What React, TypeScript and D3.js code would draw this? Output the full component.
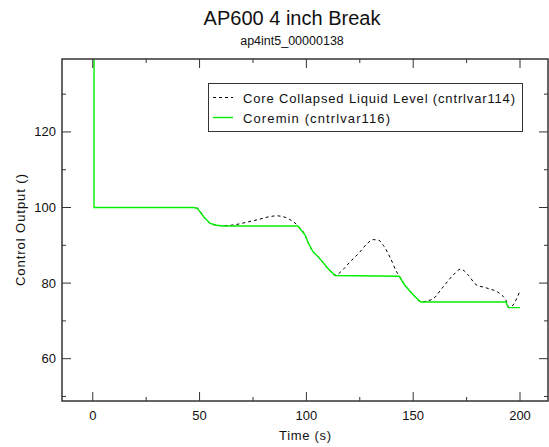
import * as d3 from 'd3'

const width = 549
const height = 447
const margin = { top: 59, right: 1, bottom: 46, left: 62 }

// Core Collapsed Liquid Level (cntrlvar114)
const coreTime = [0.6, 47, 49, 52, 55, 58, 61, 66, 72, 78, 83, 86, 89, 92, 94, 96, 99.4, 101, 103.2, 104.8, 107, 110.2, 113.4, 114.8, 117, 120.4, 125, 128, 131.3, 134, 136, 139.1, 142.3, 143.5, 146, 149, 151, 153.5, 155, 159.4, 164, 168.7, 172.3, 175.8, 179.4, 184.4, 190.6, 193.4, 195, 200]
const coreLevel = [100, 100, 99.8, 97.5, 95.8, 95.3, 95.2, 95.4, 96.1, 96.9, 97.6, 97.8, 97.6, 96.9, 96.2, 95.2, 92.7, 90.5, 88.2, 87.4, 86, 83.8, 82.1, 82.4, 83.5, 85.6, 88.2, 90.2, 91.5, 91.3, 90, 86.9, 82.9, 81.8, 79.5, 77.5, 76.3, 75.0, 75.1, 75.9, 79, 82.1, 83.7, 82.1, 79.6, 78.7, 77.2, 75.5, 73.5, 77.9]

// Coremin (cntrlvar116)
const coreminTime = [0.6, 0.6, 47, 49, 52, 55, 58, 61, 96, 99.4, 101, 103.2, 104.8, 107, 110.2, 113.4, 143.5, 146, 149, 151, 153.5, 193.4, 194.5, 200]
const coreminValue = [160, 100, 100, 99.8, 97.5, 95.8, 95.3, 95.1, 95.1, 92.7, 90.5, 88.2, 87.4, 86, 83.8, 82.0, 81.8, 79.5, 77.5, 76.3, 75.0, 75.0, 73.5, 73.5]

const xMajor = [0, 50, 100, 150, 200]
const xMinor = [25, 75, 125, 175]
const yMajor = [60, 80, 100, 120]
const yMinor = [50, 70, 90, 110, 130]

const legendLabels = ['Core Collapsed Liquid Level (cntrlvar114)', 'Coremin (cntrlvar116)']
const legendWidths = [272, 147]

const font = '"Liberation Sans", Arial, Helvetica, sans-serif'

export default function App() {
  const x0 = margin.left
  const x1 = width - margin.right
  const y0 = margin.top
  const y1 = height - margin.bottom

  const x = d3.scaleLinear().domain([-14.4, 213.1]).range([x0, x1])
  const y = d3.scaleLinear().domain([48.8, 139.3]).range([y1, y0])

  const corePts = coreTime.map((t, i) => [t, coreLevel[i]] as [number, number])
  const minPts = coreminTime.map((t, i) => [t, coreminValue[i]] as [number, number])

  const smooth = d3
    .line<[number, number]>()
    .x((d) => x(d[0]))
    .y((d) => y(d[1]))
    .curve(d3.curveMonotoneX)
  const straight = d3
    .line<[number, number]>()
    .x((d) => x(d[0]))
    .y((d) => y(d[1]))

  const axisColor = '#333'

  return (
    <svg
      width={width}
      height={height}
      style={{ position: 'absolute', left: 0, top: 0, background: '#fff' }}
      fontFamily={font}
    >
      <text x={292} y={25} textAnchor="middle" fontSize={20} fill="#111">
        AP600 4 inch Break
      </text>
      <text x={292} y={45} textAnchor="middle" fontSize={12.5} fill="#111">
        ap4int5_00000138
      </text>

      <defs>
        <clipPath id="plot">
          <rect x={x0} y={y0} width={x1 - x0} height={y1 - y0} />
        </clipPath>
      </defs>

      <g clipPath="url(#plot)">
        <path d={smooth(corePts) ?? ''} fill="none" stroke="#000" strokeWidth={1} strokeDasharray="3,3" />
        <path d={straight(minPts) ?? ''} fill="none" stroke="#00f000" strokeWidth={1.4} />
      </g>

      {/* ticks */}
      <g stroke={axisColor} strokeWidth={1}>
        {xMajor.map((t) => (
          <g key={'xM' + t}>
            <line x1={x(t)} x2={x(t)} y1={y1} y2={y1 - 9} />
            <line x1={x(t)} x2={x(t)} y1={y0} y2={y0 + 9} />
          </g>
        ))}
        {xMinor.map((t) => (
          <g key={'xm' + t}>
            <line x1={x(t)} x2={x(t)} y1={y1} y2={y1 - 4} />
            <line x1={x(t)} x2={x(t)} y1={y0} y2={y0 + 4} />
          </g>
        ))}
        {yMajor.map((v) => (
          <g key={'yM' + v}>
            <line x1={x0} x2={x0 + 9} y1={y(v)} y2={y(v)} />
            <line x1={x1} x2={x1 - 9} y1={y(v)} y2={y(v)} />
          </g>
        ))}
        {yMinor.map((v) => (
          <g key={'ym' + v}>
            <line x1={x0} x2={x0 + 4} y1={y(v)} y2={y(v)} />
            <line x1={x1} x2={x1 - 4} y1={y(v)} y2={y(v)} />
          </g>
        ))}
      </g>

      <rect x={x0} y={y0} width={x1 - x0} height={y1 - y0} fill="none" stroke={axisColor} strokeWidth={1.5} />

      {xMajor.map((t) => (
        <text key={'xl' + t} x={x(t)} y={420} textAnchor="middle" fontSize={13} fill="#111">
          {t}
        </text>
      ))}
      {yMajor.map((v) => (
        <text key={'yl' + v} x={56} y={y(v) + 4.5} textAnchor="end" fontSize={13} fill="#111">
          {v}
        </text>
      ))}

      <text
        x={(x0 + x1) / 2}
        y={440}
        textAnchor="middle"
        fontSize={13}
        fill="#111"
        textLength={52}
        lengthAdjust="spacing"
      >
        Time (s)
      </text>
      <text
        transform={`translate(25,${(y0 + y1) / 2}) rotate(-90)`}
        textAnchor="middle"
        fontSize={13}
        fill="#111"
        textLength={112}
        lengthAdjust="spacing"
      >
        Control Output ()
      </text>

      {/* legend */}
      <g>
        <rect x={208.5} y={83.5} width={314} height={48} fill="#fff" stroke={axisColor} strokeWidth={1} />
        <line x1={213} x2={233} y1={97.5} y2={97.5} stroke="#000" strokeWidth={1} strokeDasharray="3,3" />
        <line x1={213} x2={233} y1={117.5} y2={117.5} stroke="#00f000" strokeWidth={1.4} />
        {legendLabels.map((l, i) => (
          <text
            key={l}
            x={243}
            y={102.5 + i * 20.5}
            fontSize={13}
            fill="#111"
            textLength={legendWidths[i]}
            lengthAdjust="spacing"
          >
            {l}
          </text>
        ))}
      </g>
    </svg>
  )
}
